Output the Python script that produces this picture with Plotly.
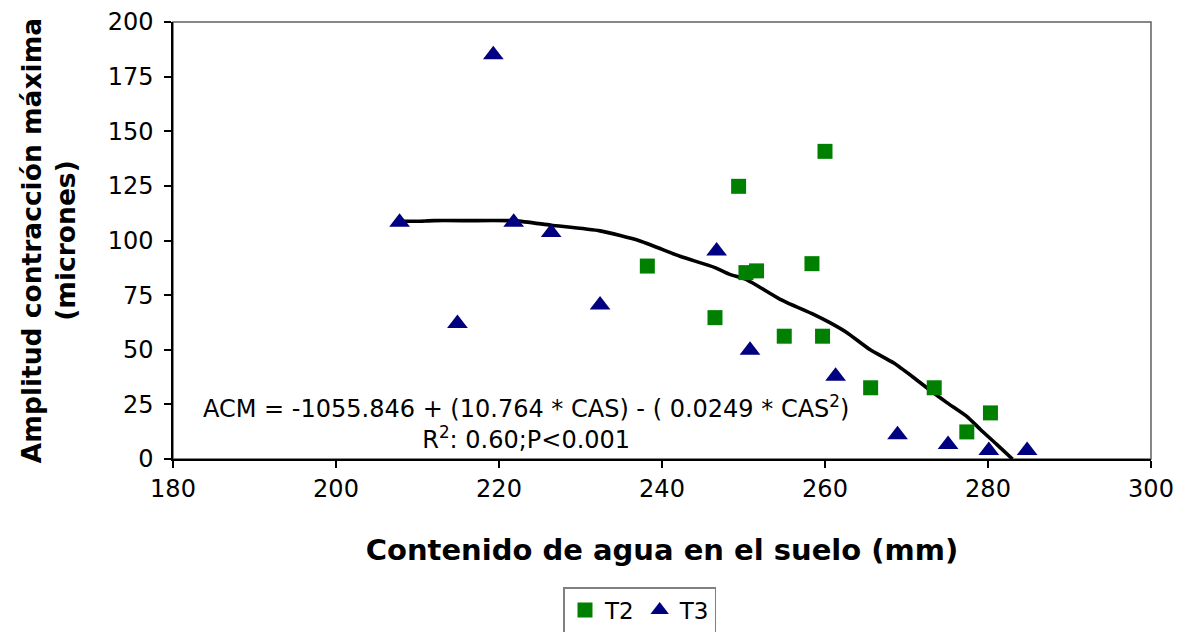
import plotly.graph_objects as go

# T2 observations: soil water content (mm) vs maximum contraction amplitude (microns)
t2_x = [238.2, 249.4, 260.0, 250.3, 251.6, 258.4, 246.5, 255.0, 259.7, 265.6, 273.4, 280.3, 277.4]
t2_y = [88.3, 124.8, 140.8, 85.3, 86.1, 89.4, 64.7, 56.2, 56.2, 32.6, 32.6, 21.1, 12.4]

# T3 observations
t3_x = [207.8, 214.9, 219.3, 221.8, 226.4, 232.4, 246.7, 250.8, 261.3, 268.9, 275.1, 280.1, 284.8]
t3_y = [108.3, 62.0, 185.0, 108.3, 103.7, 70.5, 95.2, 49.8, 37.9, 11.1, 6.6, 3.9, 3.9]

# Fitted quadratic trend (ACM vs CAS)
fit_x = [208.0, 210.0, 212.0, 216.0, 222.0, 226.4, 232.4, 237.3, 242.2, 246.5, 248.3, 250.3,
         254.5, 258.6, 260.6, 262.7, 265.5, 268.4, 270.9, 273.3, 275.0, 277.4, 279.1, 281.1, 283.0]
fit_y = [108.8, 108.8, 109.1, 109.1, 109.0, 107.0, 104.4, 99.8, 92.8, 87.6, 84.5, 82.2,
         73.1, 66.2, 62.4, 57.8, 50.1, 44.0, 37.2, 30.3, 25.7, 19.5, 13.4, 6.6, 0.0]

x_ticks = [180, 200, 220, 240, 260, 280, 300]
y_ticks = [0, 25, 50, 75, 100, 125, 150, 175, 200]

FONT = "DejaVu Sans, Arial, sans-serif"

fig = go.Figure()

fig.add_trace(go.Scatter(
    x=fit_x, y=fit_y, mode="lines",
    line=dict(color="black", width=3.6, shape="spline", smoothing=0.6),
    showlegend=False, hoverinfo="skip",
))
fig.add_trace(go.Scatter(
    x=t2_x, y=t2_y, mode="markers", name="T2",
    marker=dict(symbol="square", size=15, color="#008000",
                line=dict(width=0)),
))
fig.add_trace(go.Scatter(
    x=t3_x, y=t3_y, mode="markers", name="T3",
    marker=dict(symbol="triangle-up", size=18, color="#000080",
                line=dict(width=0)),
))

# plot area frame (grey top/right)
fig.add_shape(type="rect", xref="paper", yref="paper", x0=0, y0=0, x1=1, y1=1,
              line=dict(color="#606060", width=1.5), layer="below")

fig.add_annotation(
    x=223.3, y=16.8, xref="x", yref="y",
    text="ACM = -1055.846 + (10.764 * CAS) - ( 0.0249 * CAS<sup>2</sup>)<br>R<sup>2</sup>: 0.60;P<0.001",
    showarrow=False, align="center",
    font=dict(family=FONT, size=24, color="black"),
)

fig.update_layout(
    width=1190, height=632,
    margin=dict(l=173, r=39, t=22, b=173, autoexpand=False),
    paper_bgcolor="white", plot_bgcolor="white",
    font=dict(family=FONT, color="black"),
    legend=dict(
        orientation="h", x=0.4775, xanchor="center", y=-0.293, yanchor="top",
        bordercolor="#808080", borderwidth=1.5,
        font=dict(family=FONT, size=23, color="black"),
        itemwidth=30, tracegroupgap=0,
    ),
    xaxis=dict(
        range=[180, 300], tickvals=x_ticks,
        showline=True, linecolor="black", linewidth=1.5,
        ticks="outside", ticklen=7, tickcolor="black", tickwidth=1.5,
        showgrid=False, zeroline=False,
        tickfont=dict(family=FONT, size=24, color="black"),
        title=dict(text="<b>Contenido de agua en el suelo (mm)</b>",
                   font=dict(family=FONT, size=29, color="black"), standoff=38),
    ),
    yaxis=dict(
        range=[0, 200], tickvals=y_ticks,
        showline=True, linecolor="black", linewidth=1.5,
        ticks="outside", ticklen=7, tickcolor="black", tickwidth=1.5,
        ticklabelstandoff=6,
        showgrid=False, zeroline=False,
        tickfont=dict(family=FONT, size=24, color="black"),
        title=dict(text="<b>Amplitud contracción máxima<br>(micrones)</b>",
                   font=dict(family=FONT, size=26.5, color="black"), standoff=24),
    ),
)

fig.write_html("out.html")
